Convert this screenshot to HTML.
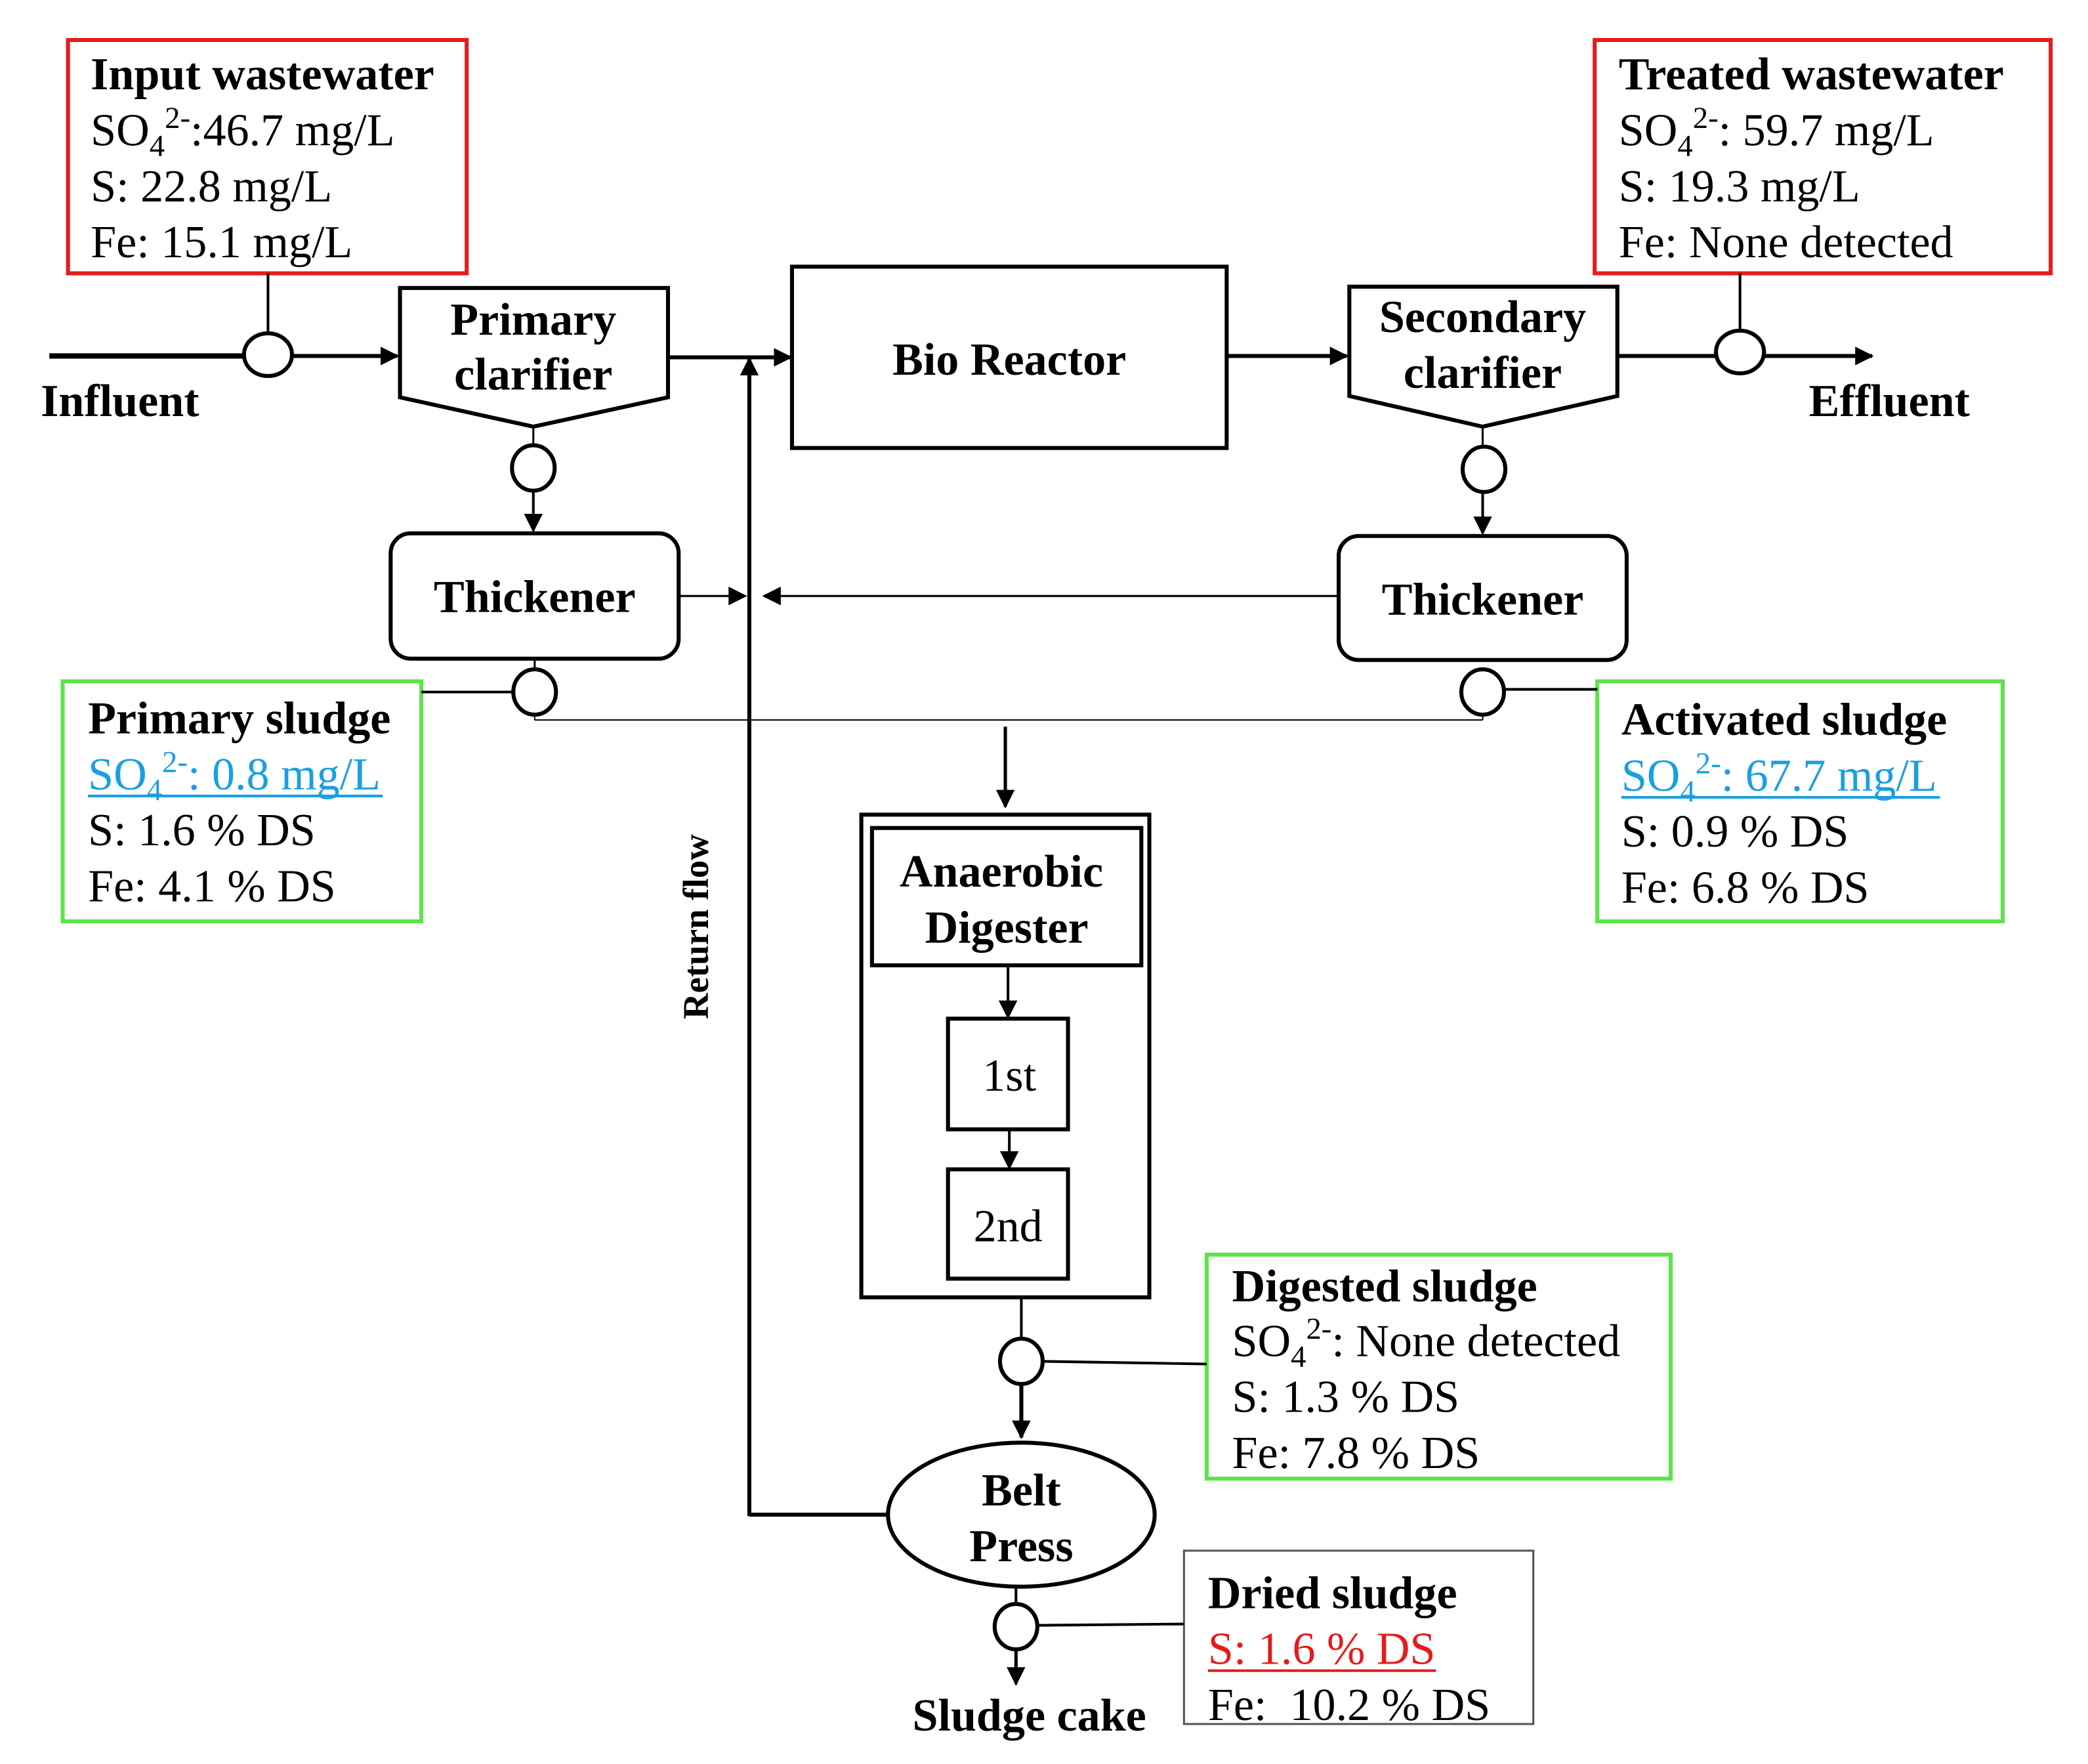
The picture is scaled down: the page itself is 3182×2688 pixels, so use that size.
<!DOCTYPE html>
<html><head><style>html,body{margin:0;padding:0;background:#fff}svg{display:block}</style></head>
<body>
<svg width="3182" height="2688" viewBox="0 0 1566 1323" preserveAspectRatio="none" xmlns="http://www.w3.org/2000/svg" font-family="Liberation Serif, serif" font-size="34.5">
<defs>
<marker id="b" viewBox="0 0 10 10" refX="9" refY="5" markerWidth="14" markerHeight="14" orient="auto" markerUnits="userSpaceOnUse"><path d="M0,0L10,5L0,10z"/></marker>
</defs>
<rect width="1566" height="1323" fill="#fff"/>
<g fill="none" stroke="#000" stroke-width="3">
<rect x="51" y="30" width="299" height="175" stroke="#e41c1c"/>
<rect x="1196" y="30" width="342" height="175" stroke="#e41c1c"/>
<rect x="47" y="511" width="269" height="180" stroke="#5de34a"/>
<rect x="1198" y="511" width="304" height="180" stroke="#5de34a"/>
<rect x="905" y="941" width="348" height="168" stroke="#5de34a"/>
<rect x="888" y="1163" width="262" height="130" stroke="#555" stroke-width="1.5"/>
<line x1="37" y1="267" x2="183" y2="267" stroke-width="4"/>
<line x1="219" y1="267" x2="298" y2="267" stroke-width="3" marker-end="url(#b)"/>
<line x1="201" y1="205" x2="201" y2="250" stroke-width="2"/>
<ellipse cx="201" cy="266" rx="18" ry="16"/>
<polygon points="300,216 501,216 501,298 400,320 300,298"/>
<line x1="501" y1="268" x2="593" y2="268" marker-end="url(#b)"/>
<rect x="594" y="200" width="326" height="136"/>
<line x1="920" y1="267" x2="1010" y2="267" marker-end="url(#b)"/>
<polygon points="1012,215 1213,215 1213,297 1112,320 1012,297"/>
<line x1="1213" y1="267" x2="1287" y2="267"/>
<ellipse cx="1305" cy="264" rx="18" ry="16"/>
<line x1="1323" y1="267" x2="1404" y2="267" marker-end="url(#b)"/>
<line x1="1305" y1="205" x2="1305" y2="248" stroke-width="2"/>
<line x1="400" y1="320" x2="400" y2="335" stroke-width="1.5"/>
<ellipse cx="400" cy="351" rx="16" ry="17"/>
<line x1="400" y1="368" x2="400" y2="398" stroke-width="2" marker-end="url(#b)"/>
<line x1="1112" y1="320" x2="1112" y2="336" stroke-width="1.5"/>
<ellipse cx="1113" cy="352" rx="16" ry="17"/>
<line x1="1112" y1="369" x2="1112" y2="400" stroke-width="2" marker-end="url(#b)"/>
<rect x="293" y="400" width="216" height="94" rx="15"/>
<rect x="1004" y="402" width="216" height="93" rx="15"/>
<line x1="509" y1="447" x2="559" y2="447" stroke-width="1.5" marker-end="url(#b)"/>
<line x1="1003" y1="447" x2="573" y2="447" stroke-width="1.5" marker-end="url(#b)"/>
<line x1="562" y1="1136" x2="666" y2="1136"/>
<line x1="562" y1="1137" x2="562" y2="269" marker-end="url(#b)"/>
<line x1="401" y1="494" x2="401" y2="502" stroke-width="1.5"/>
<ellipse cx="401" cy="519" rx="16" ry="17"/>
<line x1="316" y1="519" x2="385" y2="519" stroke-width="2"/>
<ellipse cx="1112" cy="519" rx="16" ry="17"/>
<line x1="1128" y1="517" x2="1198" y2="517" stroke-width="2"/>
<line x1="401" y1="536" x2="401" y2="540" stroke-width="1"/>
<line x1="1112" y1="536" x2="1112" y2="540" stroke-width="1"/>
<line x1="401" y1="540" x2="1112" y2="540" stroke-width="1"/>
<line x1="754" y1="545" x2="754" y2="605" stroke-width="2.5" marker-end="url(#b)"/>
<rect x="646" y="611" width="216" height="362"/>
<rect x="654" y="621" width="202" height="103"/>
<line x1="756" y1="724" x2="756" y2="763" stroke-width="2" marker-end="url(#b)"/>
<rect x="711" y="764" width="90" height="83"/>
<line x1="757" y1="847" x2="757" y2="876" stroke-width="2" marker-end="url(#b)"/>
<rect x="711" y="877" width="90" height="82"/>
<line x1="766" y1="973" x2="766" y2="1004" stroke-width="2"/>
<ellipse cx="766" cy="1021" rx="16" ry="17"/>
<line x1="782" y1="1021" x2="905" y2="1023" stroke-width="2"/>
<line x1="766" y1="1038" x2="766" y2="1078" marker-end="url(#b)"/>
<ellipse cx="766" cy="1136" rx="100" ry="54"/>
<line x1="762" y1="1190" x2="762" y2="1203" stroke-width="2"/>
<ellipse cx="762" cy="1220" rx="16" ry="17"/>
<line x1="778" y1="1219" x2="888" y2="1218" stroke-width="2"/>
<line x1="762" y1="1237" x2="762" y2="1263" stroke-width="2.5" marker-end="url(#b)"/>
</g>
<g font-weight="bold" text-anchor="middle">
<text x="400" y="251">Primary</text><text x="400" y="292">clarifier</text>
<text x="757" y="281">Bio Reactor</text>
<text x="1112" y="249">Secondary</text><text x="1112" y="291">clarifier</text>
<text x="90" y="312">Influent</text>
<text x="1417" y="312">Effluent</text>
<text x="401" y="459">Thickener</text>
<text x="1112" y="461">Thickener</text>
<text x="751" y="665">Anaerobic</text><text x="755" y="707">Digester</text>
<text x="766" y="1129">Belt</text><text x="766" y="1171">Press</text>
<text x="772" y="1298">Sludge cake</text>
<text transform="translate(531,695) rotate(-90)" font-size="27">Return flow</text>
</g>
<g text-anchor="middle"><text x="757" y="818">1st</text><text x="756" y="931">2nd</text></g>
<g>
<text x="68" y="67" font-weight="bold">Input wastewater</text>
<text x="68" y="109">SO<tspan font-size="23" dy="8">4</tspan><tspan font-size="23" dy="-21">2-</tspan><tspan dy="13">:46.7 mg/L</tspan></text>
<text x="68" y="151">S: 22.8 mg/L</text>
<text x="68" y="193">Fe: 15.1 mg/L</text>

<text x="1214" y="67" font-weight="bold">Treated wastewater</text>
<text x="1214" y="109">SO<tspan font-size="23" dy="8">4</tspan><tspan font-size="23" dy="-21">2-</tspan><tspan dy="13">: 59.7 mg/L</tspan></text>
<text x="1214" y="151">S: 19.3 mg/L</text>
<text x="1214" y="193">Fe: None detected</text>

<text x="66" y="550" font-weight="bold">Primary sludge</text>
<text x="66" y="592" fill="#1a9fe0">SO<tspan font-size="23" dy="8">4</tspan><tspan font-size="23" dy="-21">2-</tspan><tspan dy="13">: 0.8 mg/L</tspan></text>
<line x1="66" y1="597" x2="287" y2="597" stroke="#1a9fe0" stroke-width="2"/>
<text x="66" y="634">S: 1.6 % DS</text>
<text x="66" y="676">Fe: 4.1 % DS</text>

<text x="1216" y="551" font-weight="bold">Activated sludge</text>
<text x="1216" y="593" fill="#1a9fe0">SO<tspan font-size="23" dy="8">4</tspan><tspan font-size="23" dy="-21">2-</tspan><tspan dy="13">: 67.7 mg/L</tspan></text>
<line x1="1216" y1="598" x2="1455" y2="598" stroke="#1a9fe0" stroke-width="2"/>
<text x="1216" y="635">S: 0.9 % DS</text>
<text x="1216" y="677">Fe: 6.8 % DS</text>

<text x="924" y="976" font-weight="bold">Digested sludge</text>
<text x="924" y="1017">SO<tspan font-size="23" dy="8">4</tspan><tspan font-size="23" dy="-21">2-</tspan><tspan dy="13">: None detected</tspan></text>
<text x="924" y="1059">S: 1.3 % DS</text>
<text x="924" y="1101">Fe: 7.8 % DS</text>

<text x="906" y="1206" font-weight="bold">Dried sludge</text>
<text x="906" y="1248" fill="#e41c1c">S: 1.6 % DS</text>
<line x1="906" y1="1253" x2="1077" y2="1253" stroke="#e41c1c" stroke-width="2"/>
<text x="906" y="1290" xml:space="preserve">Fe:  10.2 % DS</text>
</g>
</svg>
</body></html>
